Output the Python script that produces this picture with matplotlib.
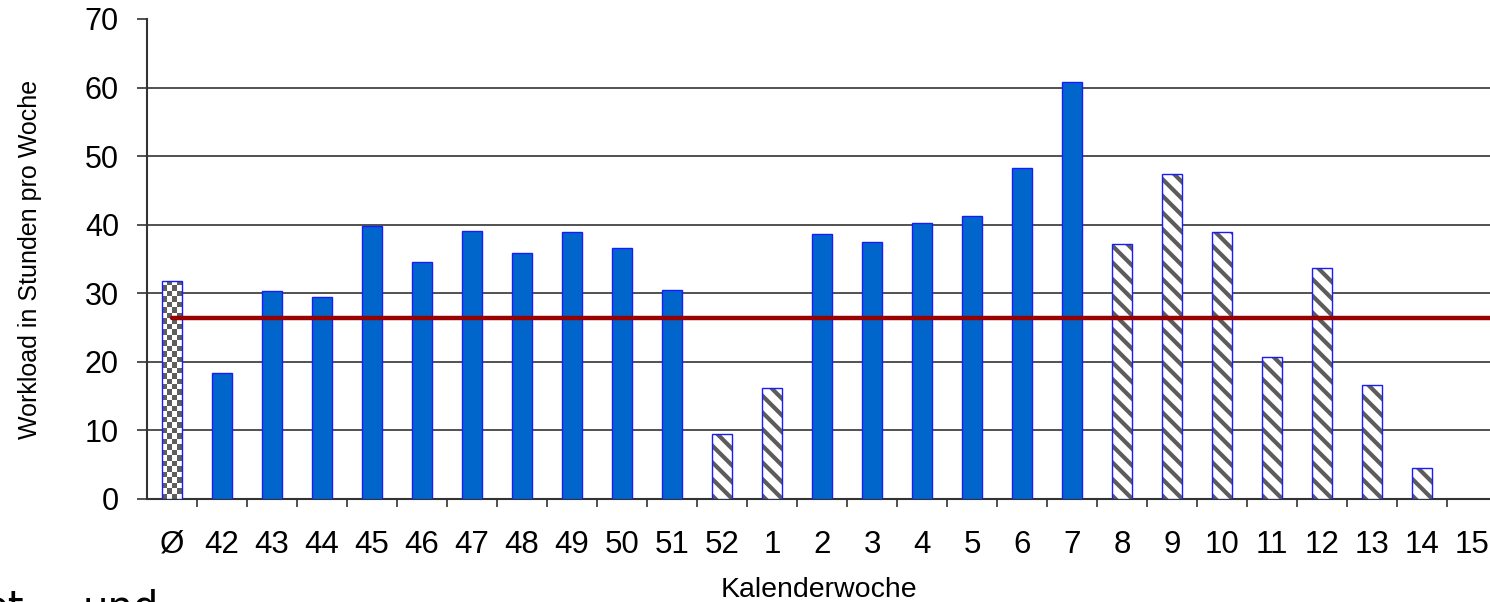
import numpy as np
import matplotlib
matplotlib.use("Agg")
import matplotlib.pyplot as plt

plt.rcParams['font.family'] = ['Liberation Sans', 'DejaVu Sans']
plt.rcParams['hatch.linewidth'] = 3.0

# Kalenderwochen (Ø = Durchschnitt)
wochen = ['Ø', '42', '43', '44', '45', '46', '47', '48', '49', '50', '51', '52',
          '1', '2', '3', '4', '5', '6', '7', '8', '9', '10', '11', '12', '13', '14', '15']
workload = [31.8, 18.4, 30.3, 29.5, 39.8, 34.6, 39.1, 35.9, 38.9, 36.6, 30.5, 9.5,
            16.2, 38.6, 37.5, 40.2, 41.3, 48.3, 60.8, 37.2, 47.4, 38.9, 20.7, 33.7,
            16.6, 4.5, 0.0]
# art: 'avg' = Durchschnitt, 'ist' = gemessen, 'plan' = schraffiert
art = ['avg'] + ['ist'] * 10 + ['plan'] * 2 + ['ist'] * 6 + ['plan'] * 7 + ['ist']
sollwert = 26.4

x = np.arange(len(wochen))
w = 0.4
blau = '#0066CC'
rand = '#1a1aff'

fig = plt.figure(figsize=(14.9, 6.02), dpi=100)
ax = fig.add_axes([147 / 1490, 103 / 602, 1343 / 1490, 480 / 602])

for xi, val, a in zip(x, workload, art):
    if val <= 0:
        continue
    if a == 'ist':
        ax.bar(xi, val, w, color=blau, edgecolor=rand, linewidth=1, zorder=3)
    elif a == 'plan':
        ax.bar(xi, val, w, color='white', edgecolor='#5c5c5c', hatch='\\\\',
               linewidth=0, zorder=3)
        ax.bar(xi, val, w, fill=False, edgecolor=rand, linewidth=1, zorder=4)
    else:
        b = ax.bar(xi, val, w, color='white', edgecolor=rand, linewidth=1, zorder=4)[0]
        nr = int(round(val / 0.8))
        checker = (np.indices((nr, 4)).sum(axis=0) % 2).astype(float)
        im = ax.imshow(checker, cmap=matplotlib.colors.ListedColormap(['white', '#5e5e5e']),
                       extent=(xi - w / 2, xi + w / 2, 0, val), aspect='auto',
                       interpolation='nearest', zorder=3)
        im.set_clip_path(b)
        b.set_facecolor('none')

ax.plot([x[0], x[-1] + 0.5], [sollwert, sollwert], color='#990000', lw=3.2,
        solid_capstyle='round', zorder=5)

ax.set_xlim(-0.5, -0.5 + 1343 / 50)
ax.set_ylim(0, 70)
ax.set_yticks(np.arange(0, 71, 10))
ax.set_xticks(x)
ax.set_xticklabels(wochen)
ax.set_xticks(x[:-1] + 0.5, minor=True)

ax.grid(axis='y', color='#333333', lw=1.2, zorder=1)
ax.get_ygridlines()[-1].set_visible(False)

for s in ['top', 'right']:
    ax.spines[s].set_visible(False)
for s in ['left', 'bottom']:
    ax.spines[s].set_color('#333333')
    ax.spines[s].set_linewidth(1.5)

ax.tick_params(axis='y', length=7.2, width=1.2, color='#333333', labelsize=22, pad=13)
ax.tick_params(axis='x', which='major', length=0, labelsize=22.5, pad=22)
ax.tick_params(axis='x', which='minor', length=6, width=1.2, color='#333333')

ax.set_ylabel('Workload in Stunden pro Woche', fontsize=18)
ax.yaxis.set_label_coords(-0.078, 0.5)
ax.set_xlabel('Kalenderwoche', fontsize=20.5)
ax.xaxis.set_label_coords(0.5, -0.163)

fig.text(24 / 1490, -17 / 602, 'et', fontsize=29, family='DejaVu Sans',
         ha='right', va='baseline')
fig.text(83 / 1490, -17 / 602, 'und', fontsize=29, family='DejaVu Sans',
         ha='left', va='baseline')

fig.savefig('out.png', dpi=100)
